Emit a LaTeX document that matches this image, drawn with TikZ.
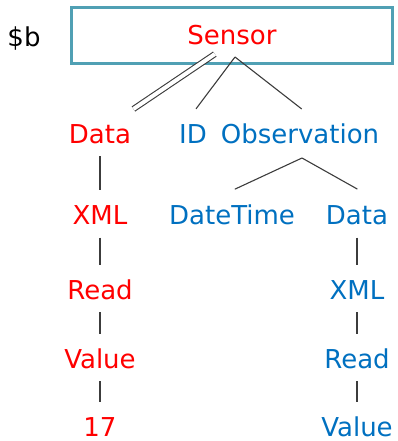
\documentclass[tikz,border=0pt]{standalone}
\usepackage{fontspec}
\setmainfont{DejaVu Sans}
\usepackage{tikz}
\definecolor{sensorred}{RGB}{255,0,0}
\definecolor{obsblue}{RGB}{0,112,192}
\definecolor{framecol}{RGB}{80,160,180}
\definecolor{edgecol}{RGB}{60,60,60}

\begin{document}
\begin{tikzpicture}[x=1pt,y=-1pt,
				label/.style={inner sep=0pt,text height=18pt,text depth=0pt,font=\fontsize{26}{30}\selectfont},
				own/.style={label,text=sensorred},
				obs/.style={label,text=obsblue},
				frame/.style={rectangle,draw=framecol,line width=3pt,minimum width=321pt,minimum height=56pt},
				edge/.style={draw=edgecol,line width=1.1pt},
				stem/.style={edge,shorten <=13pt,shorten >=16pt}]
	\useasboundingbox (0,0) rectangle (397,441);
	\node[label] (B) at (24,38) {\$b};
	\node[frame] (Box) at (231.5,36) {};
	\node[own] (S) at (232,36) {Sensor};
	\node[own] (D) at (100,134) {Data};
	\node[obs] (ID) at (193,134) {ID};
	\node[obs] (O) at (300,134) {Observation};
	\node[own] (X) at (100,215.5) {XML};
	\node[own] (R) at (100,290) {Read};
	\node[own] (V) at (100,359) {Value};
	\node[own] (N) at (100,427) {17};
	\node[obs] (T) at (232,215.5) {DateTime};
	\node[obs] (OD) at (357,215.5) {Data};
	\node[obs] (OX) at (357,290) {XML};
	\node[obs] (OR) at (357,359) {Read};
	\node[obs] (OV) at (357,427) {Value};
	\coordinate (F1) at (235,57);
	\coordinate (F2) at (302,158);
	\draw[edge,double,double distance=4pt,shorten <=15.9pt,shorten >=28.3pt] ([xshift=-4pt]S.south) -- ([xshift=10pt]D.north);
	\draw[edge,shorten >=19.9pt] (F1) -- ([xshift=-9pt]ID.north);
	\draw[edge,shorten >=25.7pt] (F1) -- ([xshift=22pt]O.north);
	\draw[edge,shorten >=40.6pt] (F2) -- ([xshift=-34pt]T.north);
	\draw[edge,shorten >=35.1pt] (F2) -- ([xshift=31pt]OD.north);
	\draw[stem] (D) -- (X);
	\draw[stem] (X) -- (R);
	\draw[stem] (R) -- (V);
	\draw[stem] (V) -- (N);
	\draw[stem] (OD) -- (OX);
	\draw[stem] (OX) -- (OR);
	\draw[stem] (OR) -- (OV);
\end{tikzpicture}
\end{document}
